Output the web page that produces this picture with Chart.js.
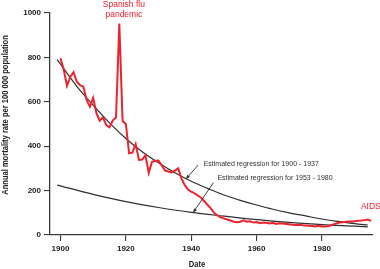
<!DOCTYPE html>
<html><head><meta charset="utf-8">
<script src="https://cdn.jsdelivr.net/npm/chart.js@4.4.1/dist/chart.umd.min.js"></script>
<style>html,body{margin:0;padding:0;background:#fff;overflow:hidden}</style>
</head><body>
<canvas id="c" width="380" height="269"></canvas>
<script>
// ---- data ----
const years = [1900,1901,1902,1903,1904,1905,1906,1907,1908,1909,1910,1911,1912,1913,1914,1915,1916,1917,1918,1919,
1920,1921,1922,1923,1924,1925,1926,1927,1928,1929,1930,1931,1932,1933,1934,1935,1936,1937,1938,1939,
1940,1941,1942,1943,1944,1945,1946,1947,1948,1949,1950,1951,1952,1953,1954,1955,1956,1957,1958,1959,
1960,1961,1962,1963,1964,1965,1966,1967,1968,1969,1970,1971,1972,1973,1974,1975,1976,1977,1978,1979,
1980,1981,1982,1983,1984,1985,1986,1987,1988,1989,1990,1991,1992,1993,1994,1995];
const mortality = [796,745,672,712,733,690,675,668,608,578,618,549,515,530,495,485,515,530,953,513,
500,368,371,410,338,340,360,280,330,334,335,312,290,286,282,290,300,255,225,205,
195,188,178,168,152,135,120,100,88,80,75,70,65,60,58,60,66,60,62,56,
58,53,56,55,52,55,50,53,52,50,48,46,45,46,44,43,42,41,38,42,
38,38,40,45,50,55,57,59,61,61,62,64,65,67,70,63];
const reg1Years  = [1899,1905,1910,1915,1920,1925,1930,1935,1940,1945,1950,1955,1960,1965,1970,1975,1980,1985,1990,1994];
const reg1Values = [790,670,585,505,435,375,325,280,242,210,180,156,135,116,100,86,72,61,51,45];
const reg2Years  = [1899,1910,1920,1930,1940,1950,1960,1970,1980,1990,1994];
const reg2Values = [225,183,150,124,102,85,69,57,47,40,37];
const xTicks = [1900,1920,1940,1960,1980];
const yTicks = [0,200,400,600,800,1000];
const xTitle = 'Date';
const yTitle = 'Annual mortality rate per 100 000 population';
const notes = [
  {text:'Spanish flu', x:1919.4, y:1039, align:'center', color:'red', size:8.5},
  {text:'pandemic', x:1919.4, y:991, align:'center', color:'red', size:8.5},
  {text:'AIDS', x:1991.9, y:126, align:'left', color:'red', size:8.5},
  {text:'Estimated regression for 1900 - 1937', x:1943.8, y:320, align:'left', color:'dark', size:7},
  {text:'Estimated regression for 1953 - 1980', x:1948.0, y:258, align:'left', color:'dark', size:7}
];
const arrows = [
  {from:[1942.1,315], to:[1938.4,252]},
  {from:[1946.8,236], to:[1940.6,101]}
];

const RED = 'rgb(238,34,44)';
const DARK = '#2f2f2f';
const AX = '#3a3a3a';

function hasFont(name){
  const c=document.createElement('canvas').getContext('2d');
  c.font="bold 20px monospace"; const a=c.measureText('1000 Annual mortality').width;
  c.font="bold 20px '"+name+"',monospace"; const b=c.measureText('1000 Annual mortality').width;
  return Math.abs(a-b)>0.5;
}
const narrow = hasFont('Liberation Sans Narrow');
const tickFont = narrow
  ? {family:"'Liberation Sans Narrow',sans-serif", size:9.5, weight:'bold'}
  : {family:"'Liberation Sans',Arial,sans-serif", size:8, weight:'bold'};
const titleFamily = narrow ? "'Liberation Sans Narrow',sans-serif" : "'Liberation Sans',Arial,sans-serif";
const titleStretch = narrow ? 1 : 0.84;

const annot = {
  id:'annot',
  afterDraw(chart){
    const {ctx, scales:{x,y}} = chart;
    ctx.save();
    ctx.strokeStyle = DARK; ctx.fillStyle = DARK; ctx.lineWidth = 0.9;
    arrows.forEach(a=>{
      const x1=x.getPixelForValue(a.from[0]), y1=y.getPixelForValue(a.from[1]);
      const x2=x.getPixelForValue(a.to[0]), y2=y.getPixelForValue(a.to[1]);
      const ang=Math.atan2(y2-y1,x2-x1);
      ctx.beginPath(); ctx.moveTo(x1,y1); ctx.lineTo(x2,y2); ctx.stroke();
      ctx.beginPath();
      ctx.moveTo(x2,y2);
      ctx.lineTo(x2-4.5*Math.cos(ang-0.4), y2-4.5*Math.sin(ang-0.4));
      ctx.lineTo(x2-4.5*Math.cos(ang+0.4), y2-4.5*Math.sin(ang+0.4));
      ctx.closePath(); ctx.fill();
    });
    ctx.textBaseline='middle';
    notes.forEach(n=>{
      ctx.font = n.size+"px 'Liberation Sans',Arial,sans-serif";
      ctx.fillStyle = n.color==='red'?RED:DARK;
      ctx.textAlign = n.align;
      ctx.fillText(n.text, x.getPixelForValue(n.x), y.getPixelForValue(n.y));
    });
    ctx.fillStyle = '#222';
    ctx.textAlign='center';
    ctx.save();
    ctx.translate(197,265); ctx.scale(titleStretch,1);
    ctx.font = "bold "+(narrow?10:9)+"px "+titleFamily;
    ctx.fillText(xTitle, 0, 0);
    ctx.restore();
    ctx.save();
    ctx.translate(6,115); ctx.rotate(-Math.PI/2); ctx.scale(titleStretch,1);
    ctx.font = "bold "+(narrow?9.4:9)+"px "+titleFamily;
    ctx.fillText(yTitle, 0, 0);
    ctx.restore();
    ctx.restore();
  }
};

new Chart(document.getElementById('c'), {
  type:'line',
  data:{datasets:[
    {data: years.map((t,i)=>({x:t,y:mortality[i]})), borderColor:RED, borderWidth:2, pointRadius:0, tension:0, order:0},
    {data: reg1Years.map((t,i)=>({x:t,y:reg1Values[i]})), borderColor:DARK, borderWidth:1.2, pointRadius:0, cubicInterpolationMode:'monotone', order:1},
    {data: reg2Years.map((t,i)=>({x:t,y:reg2Values[i]})), borderColor:DARK, borderWidth:1.2, pointRadius:0, cubicInterpolationMode:'monotone', order:2}
  ]},
  options:{
    responsive:false, animation:false, devicePixelRatio:1,
    layout:{padding:{top:13,right:7,left:0,bottom:0}},
    plugins:{legend:{display:false}, tooltip:{enabled:false}},
    scales:{
      x:{type:'linear', min:1896.8, max:1995.6,
        afterBuildTicks:s=>{s.ticks=xTicks.map(v=>({value:v}));},
        afterFit:s=>{s.height=34;},
        grid:{drawOnChartArea:false, tickLength:6, color:AX, lineWidth:1.1},
        border:{color:AX, width:1.3},
        ticks:{font:tickFont, color:'#222', padding:3, maxRotation:0, autoSkip:false, callback:v=>String(v)}},
      y:{type:'linear', min:0, max:1000,
        afterBuildTicks:s=>{s.ticks=yTicks.map(v=>({value:v}));},
        afterFit:s=>{s.width=50;},
        grid:{drawOnChartArea:false, tickLength:6, color:AX, lineWidth:1.1},
        border:{color:AX, width:1.3},
        ticks:{font:tickFont, color:'#222', padding:3, autoSkip:false, callback:v=>String(v)}}
    }
  },
  plugins:[annot]
});
</script>
</body></html>
